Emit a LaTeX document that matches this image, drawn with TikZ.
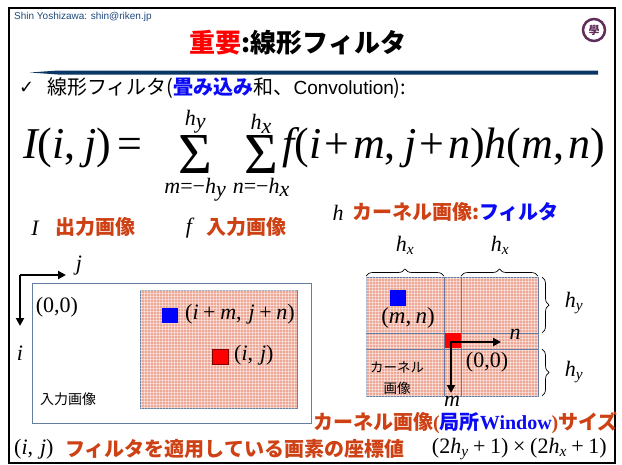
\documentclass[tikz,border=0pt]{standalone}
\usepackage{amsmath}
\usepackage[no-math]{fontspec}
\setmainfont{Liberation Serif}
\setsansfont{Liberation Sans}
\newfontfamily\jp{Noto Sans CJK JP}
\newfontfamily\dejavu{DejaVu Sans}
\DeclareSymbolFont{tletters}{TU}{\rmdefault}{m}{it}
\DeclareSymbolFont{tup}{TU}{\rmdefault}{m}{n}
\AtBeginDocument{%
  \Umathcode`I=7 \symtletters `I
  \Umathcode`i=7 \symtletters `i
  \Umathcode`j=7 \symtletters `j
  \Umathcode`m=7 \symtletters `m
  \Umathcode`n=7 \symtletters `n
  \Umathcode`f=7 \symtletters `f
  \Umathcode`h=7 \symtletters `h
  \Umathcode`x=7 \symtletters `x
  \Umathcode`y=7 \symtletters `y
  \Umathcode`0=0 \symtup `0
  \Umathcode`1=0 \symtup `1
  \Umathcode`2=0 \symtup `2
  \Umathcode`,=6 \symtup `,
  \Umathcode`(=4 \symtup `(
  \Umathcode`)=5 \symtup `)
  \Umathcode`+=2 \symtup `+
  \Umathcode`==3 \symtup `=
  \Umathcode`-=2 \symtup "2212
}
\newcommand\tmul{\mathbin{\text{×}}}
\newcommand\mysum{\mathop{\raisebox{-3pt}{$\vcenter{\hbox{\fontsize{58}{60}\selectfont Σ}}$}}\limits}
\newcommand\limbox[1]{\makebox[30pt]{$\scriptscriptstyle #1$}}
\usetikzlibrary{arrows.meta,decorations.pathreplacing,patterns}
\definecolor{orng}{RGB}{205,65,20}
\definecolor{titlered}{RGB}{255,0,0}
\definecolor{jpblue}{RGB}{10,10,245}
\definecolor{navy}{RGB}{10,55,100}
\definecolor{framegray}{RGB}{100,125,160}
\definecolor{pinkfill}{RGB}{238,168,150}
\definecolor{authorcol}{RGB}{31,73,125}
\definecolor{logopurple}{RGB}{95,45,90}
\tikzset{
  pinkbox/.style={fill=pinkfill,draw=framegray,line width=0.6pt},
  gridpat/.style={pattern=grid,pattern color=white,opacity=0.45},
  axisarrow/.style={line width=2.2pt,-{Triangle[length=8pt,width=8pt]}},
  bothaxis/.style={line width=2.2pt,{Triangle[length=8pt,width=8pt]}-{Triangle[length=8pt,width=8pt]}},
  mathlab/.style={inner sep=0pt,font=\fontsize{22}{24}\selectfont},
  jplab/.style={inner sep=0pt,anchor=west,font=\fontsize{20}{22}\selectfont\jp\bfseries,text=orng},
  kgrid/.style={draw=framegray,line width=0.5pt},
  hbrace/.style={decorate,decoration={brace,amplitude=7pt},line width=0.7pt},
}
\begin{document}
\begin{tikzpicture}[x=1pt,y=-1pt]
\useasboundingbox (0,0) rectangle (622,464);
\fill[white] (0,0) rectangle (622,464);
% slide frame
\draw[line width=2.5pt] (9,8) rectangle (615,463);
% header
\node[anchor=west,inner sep=0pt,text=authorcol,font=\fontsize{10}{12}\selectfont\sffamily] (author) at (14,17) {Shin Yoshizawa: shin@riken.jp};
\node[inner sep=0pt,font=\fontsize{26}{28}\selectfont\jp\bfseries] (title) at (298,43) {\textcolor{titlered}{重要}:線形フィルタ};
\draw[logopurple,line width=2.5pt] (594,30) circle (11);
\node[inner sep=0pt,text=logopurple,font=\fontsize{11}{12}\selectfont\jp\bfseries] (logo) at (594,30) {學};
\fill[navy] (30,72.5) -- (58,70.5) -- (598,70.5) -- (598,74.5) -- (58,74.5) -- cycle;
% bullet line
\node[anchor=west,inner sep=0pt,font=\fontsize{18}{20}\selectfont\dejavu] (check) at (19,88) {✓};
\node[anchor=west,inner sep=0pt,font=\fontsize{20}{22}\selectfont\jp] (bullet) at (47,88) {線形フィルタ(\textcolor{jpblue}{\bfseries 畳み込み}和、{\sffamily\fontsize{19}{22}\selectfont Convolution}):};
% formula
\node[anchor=base west,inner sep=0pt,font=\fontsize{44}{48}\selectfont] (formula) at (23,158)
  {$\medmuskip=2.5mu I(i,\,j)=\hspace{29pt}\mysum_{\limbox{m=-h_y}}^{\scriptscriptstyle h_y}\hspace{28pt}\mysum_{\limbox{n=-h_x}}^{\scriptscriptstyle h_x} f(i+m,\,j+n)h(m,n)$};
% labels
\node[mathlab] (Ilab) at (35,228) {$I$};
\node[jplab] (Itext) at (55,227) {出力画像};
\node[mathlab] (flab) at (189,228) {$f$};
\node[jplab] (ftext) at (206,227) {入力画像};
\node[mathlab] (hlab) at (338,213) {$h$};
\node[jplab] (htext) at (352,212) {カーネル画像:\textcolor{jpblue}{フィルタ}};
% left diagram: axes
\coordinate (ax0) at (20,275);
\coordinate (axj) at (66,275);
\coordinate (axi) at (20,326);
\draw[axisarrow] (ax0) -- (axj);
\draw[axisarrow] (ax0) -- (axi);
\node[mathlab] (jlab) at (79,266) {$j$};
\node[mathlab] (ilab) at (20,353) {$i$};
% input image
\draw[framegray,line width=0.6pt] (32,283) rectangle (311,423);
\node[mathlab] (orig) at (57,307) {$(0{,}0)$};
\node[anchor=west,inner sep=0pt,font=\fontsize{14}{16}\selectfont\jp] (inlab) at (40,399) {入力画像};
\path[pinkbox] (140,290) rectangle (297,408);
\fill[gridpat] (140,290) rectangle (297,408);
\fill[blue] (162,308) rectangle (178,323);
\node[mathlab,anchor=west] (imjn) at (185,314) {$(i+m,\,j+n)$};
\draw[fill=red,draw=red!50!black,line width=0.6pt] (212,349) rectangle (228,364);
\node[mathlab,anchor=west] (ij) at (234,355) {$(i,\,j)$};
% kernel
\path[pinkbox] (366,277) rectangle (538,396);
\fill[gridpat] (366,277) rectangle (538,396);
\draw[kgrid] (444,277) -- (444,396);
\draw[kgrid] (461,277) -- (461,396);
\draw[kgrid] (366,333) -- (538,333);
\draw[kgrid] (366,349) -- (538,349);
\fill[blue] (390,290) rectangle (406,306);
\node[mathlab,font=\fontsize{23}{24}\selectfont] (mn) at (408,318) {$(m,n)$};
\fill[red] (445,333) rectangle (461,348);
\coordinate (kc) at (451,342);
\coordinate (kn) at (501,342);
\coordinate (km) at (451,393);
\draw[bothaxis] (kn) -- (kc) -- (km);
\node[mathlab] (nlab) at (515,334) {$n$};
\node[mathlab] (mlab) at (452,401) {$m$};
\node[mathlab] (korig) at (487,362) {$(0{,}0)$};
\node[inner sep=0pt,align=center,font=\fontsize{13.5}{21}\selectfont\jp] (klab) at (397,378) {カーネル\\画像};
% braces
\draw[hbrace] (366,276) -- (444,276);
\draw[hbrace] (461,276) -- (538,276);
\node[mathlab] (hx1) at (405,245) {$h_x$};
\node[mathlab] (hx2) at (500,245) {$h_x$};
\draw[hbrace] (542,277) -- (542,333);
\draw[hbrace] (542,349) -- (542,396);
\node[mathlab] (hy1) at (574,303) {$h_y$};
\node[mathlab] (hy2) at (574,372) {$h_y$};
% bottom text
\node[jplab] (ksize) at (313,423) {カーネル画像{\rmfamily(}\textcolor{jpblue}{局所{\rmfamily Window}}{\rmfamily)}サイズ};
\node[mathlab,anchor=west] (ijb) at (14,449) {$(i,\,j)$};
\node[jplab] (desc) at (65,449) {フィルタを適用している画素の座標値};
\node[mathlab,anchor=east] (size) at (607,449) {$(2h_y+1)\tmul(2h_x+1)$};
\end{tikzpicture}
\end{document}
